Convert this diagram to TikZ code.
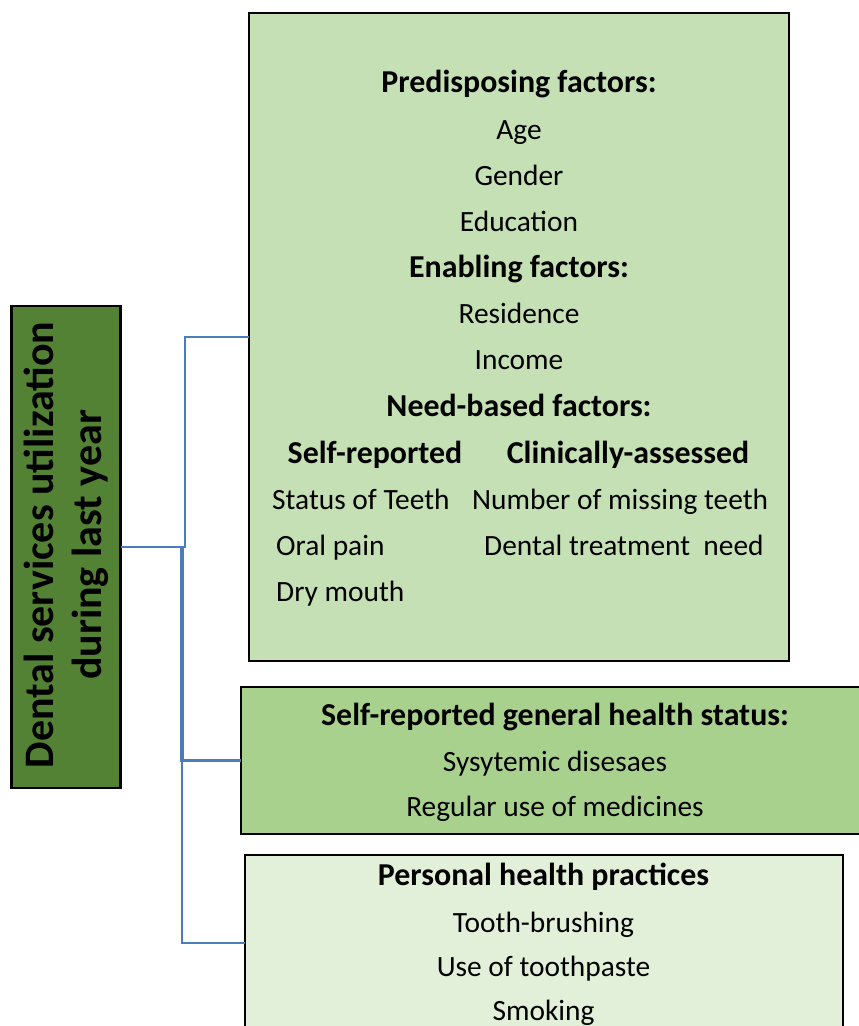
\documentclass[tikz,border=0pt]{standalone}
\usepackage{fontspec}
\setmainfont{Carlito}
\definecolor{darkgreen}{HTML}{548235}
\definecolor{topfill}{HTML}{C5E0B4}
\definecolor{midfill}{HTML}{A9D18E}
\definecolor{botfill}{HTML}{E2F0D9}
\definecolor{conncol}{HTML}{4A7EBB}
\tikzset{
  box/.style={draw=black, line width=2.5pt, inner sep=0pt, outer sep=0pt},
  conn/.style={draw=conncol, line width=2.4pt},
  txt/.style={inner sep=0pt, anchor=base, font=\fontsize{29.4}{34}\selectfont},
  hd/.style={txt, font=\fontsize{31.9}{36}\selectfont\bfseries},
  txtl/.style={txt, anchor=base west},
}
\begin{document}
\begin{tikzpicture}[x=1pt,y=-1pt]
\useasboundingbox (0,0) rectangle (859,1026);
\clip (0,0) rectangle (859,1026);
\fill[white] (0,0) rectangle (859,1026);
% boxes
\node[box, fill=darkgreen, minimum width=109pt, minimum height=482pt] (L) at (66,547) {};
\node[box, fill=topfill, minimum width=540pt, minimum height=648pt] (T) at (519,337) {};
\node[box, fill=midfill, minimum width=629pt, minimum height=147pt] (M) at (555.5,760.5) {};
\node[box, fill=botfill, minimum width=598pt, minimum height=176pt] (B) at (544,943) {};
% left title
\node[rotate=90, align=center, inner sep=0pt, font=\fontsize{42}{48}\selectfont\bfseries] (Lt) at (66,545) {Dental services utilization\\during last year};
% connectors
\coordinate (j1) at (185,547);
\coordinate (j2) at (182,547);
\draw[conn] (L.east) -- (j1) |- (T.west);
\draw[conn, line width=3.4pt] (j2) |- (M.west);
\draw[conn] (j2) |- (B.west);
% top box text
\node[hd] (t1) at (519,92) {Predisposing factors:};
\node[txt] (t2) at (519,139) {Age};
\node[txt] (t3) at (519,185) {Gender};
\node[txt] (t4) at (519,231) {Education};
\node[hd] (t5) at (519,277) {Enabling factors:};
\node[txt] (t6) at (519,323) {Residence};
\node[txt] (t7) at (519,369) {Income};
\node[hd] (t8) at (519,416) {Need-based factors:};
\node[hd] (c1) at (375,463) {Self-reported};
\node[hd] (c2) at (628,463) {Clinically-assessed};
\node[txtl] (s1) at (272,509) {Status of Teeth};
\node[txtl] (s2) at (276,555) {Oral pain};
\node[txtl] (s3) at (276,601) {Dry mouth};
\node[txtl] (k1) at (472,509) {Number of missing teeth};
\node[txtl] (k2) at (484,555) {Dental treatment\ \ need};
% middle box text
\node[hd] (m1) at (555,725) {Self-reported general health status:};
\node[txt] (m2) at (555,771) {Sysytemic disesaes};
\node[txt] (m3) at (555,816) {Regular use of medicines};
% bottom box text
\node[hd] (b1) at (543.5,885) {Personal health practices};
\node[txt] (b2) at (543.5,932) {Tooth-brushing};
\node[txt] (b3) at (543.5,976) {Use of toothpaste};
\node[txt] (b4) at (543.5,1020) {Smoking};
\end{tikzpicture}
\end{document}
